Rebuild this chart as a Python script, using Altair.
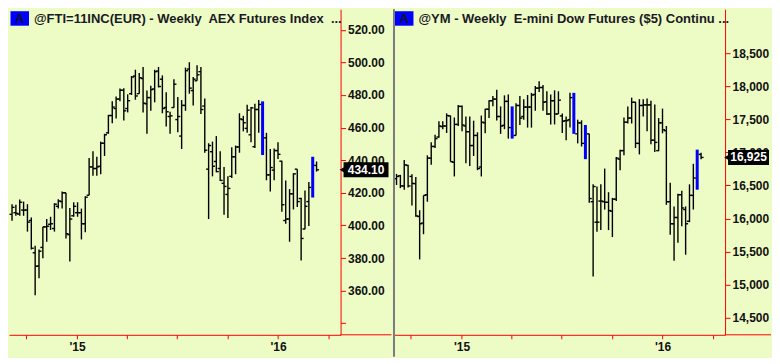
import altair as alt
import pandas as pd

# ---------------- data (weekly OHLC) ----------------
week_end = pd.date_range(end="2016-03-11", periods=80, freq="W-FRI")

aex_high = [413.0, 412.7, 415.9, 414.6, 413.0, 404.9, 387.5, 385.2, 399.1, 403.9,
            405.3, 413.6, 416.1, 420.8, 420.0, 410.7, 414.2, 414.2, 410.3, 417.9,
            441.3, 445.5, 442.1, 451.4, 456.2, 467.8, 476.1, 479.0, 483.9, 484.2,
            480.4, 491.6, 495.5, 493.5, 497.2, 482.7, 485.6, 495.5, 497.2, 492.0,
            481.7, 469.7, 489.7, 478.8, 476.9, 496.8, 500.1, 491.0, 498.2, 497.2,
            477.9, 450.4, 451.4, 454.8, 445.5, 435.9, 430.1, 447.9, 449.0, 468.8,
            467.2, 474.0, 472.6, 474.6, 476.9, 476.1, 456.8, 446.9, 447.1, 451.0,
            439.7, 427.6, 422.3, 432.0, 434.5, 416.9, 421.4, 426.6, 442.1, 439.2]
aex_low = [402.9, 405.9, 405.9, 405.9, 396.2, 385.2, 357.1, 367.6, 379.8, 390.0,
           397.2, 396.2, 410.3, 410.3, 391.9, 377.8, 405.3, 405.3, 391.4, 395.8,
           418.5, 430.5, 430.5, 431.4, 442.6, 456.2, 462.6, 465.5, 476.1, 464.3,
           469.3, 480.0, 477.1, 480.8, 469.3, 456.2, 470.3, 475.5, 484.6, 468.8,
           460.6, 456.2, 472.1, 457.2, 446.9, 470.3, 480.8, 473.6, 488.7, 468.4,
           444.6, 403.9, 430.1, 432.6, 427.2, 406.5, 404.5, 429.1, 431.4, 444.6,
           457.7, 456.8, 451.0, 447.5, 456.8, 443.2, 427.7, 420.8, 427.7, 440.7,
           408.4, 401.0, 390.0, 409.8, 411.3, 378.4, 397.6, 399.7, 417.1, 433.0]
aex_open = [406.8, 407.8, 406.9, 409.4, 409.4, 403.0, 383.2, 375.1, 386.5, 399.1,
            400.7, 398.1, 411.7, 414.6, 420.0, 394.3, 405.9, 407.8, 407.8, 401.0,
            418.5, 435.9, 434.9, 436.3, 450.4, 456.8, 467.4, 471.7, 477.5, 482.9,
            471.7, 480.8, 491.6, 480.8, 490.1, 474.6, 478.4, 483.7, 494.7, 489.7,
            472.3, 466.8, 472.3, 464.9, 454.8, 473.6, 495.9, 482.7, 488.7, 494.3,
            473.2, 434.5, 445.2, 439.2, 434.9, 425.8, 419.0, 430.1, 442.1, 448.1,
            464.9, 459.5, 455.6, 448.3, 471.1, 474.6, 453.7, 431.0, 433.9, 445.9,
            439.4, 403.0, 403.9, 419.4, 434.5, 416.5, 397.8, 414.6, 418.5, 436.8]
aex_close = [411.1, 407.4, 414.2, 409.4, 402.0, 386.0, 374.9, 384.2, 399.1, 399.5,
             401.0, 413.0, 415.0, 420.0, 394.9, 403.9, 411.7, 407.8, 401.0, 417.3,
             435.9, 434.9, 435.9, 450.4, 455.6, 467.4, 472.6, 477.5, 482.9, 470.3,
             476.5, 491.0, 479.4, 490.6, 475.0, 478.4, 483.3, 494.3, 485.2, 471.7,
             469.7, 467.2, 486.6, 466.8, 473.6, 494.9, 484.2, 489.7, 492.4, 471.1,
             446.1, 449.0, 436.3, 433.0, 427.6, 423.9, 422.7, 442.1, 448.1, 465.3,
             463.0, 470.7, 472.1, 471.1, 474.2, 444.6, 431.0, 435.5, 445.9, 443.6,
             412.7, 403.9, 419.4, 431.6, 414.6, 392.0, 411.7, 423.3, 440.7, 434.1]
aex_blue_bars = [66, 79]

ym_high = [16675, 16661, 16885, 16813, 16670, 16627, 16125, 16350, 16957, 17153,
           17267, 17473, 17473, 17592, 17559, 17530, 17721, 17712, 17545, 17545,
           17482, 17306, 17559, 17664, 17793, 17855, 17951, 17698, 17865, 17879,
           17698, 17745, 17855, 17808, 17870, 17903, 18008, 18080, 18023, 17927,
           17879, 17941, 17927, 17592, 17545, 17903, 17903, 17497, 17487, 17416,
           17282, 16517, 16484, 16517, 16756, 16398, 16312, 16933, 17043, 17530,
           17698, 17831, 17769, 17808, 17808, 17817, 17784, 17726, 17521, 17664,
           17401, 16541, 16183, 16374, 16422, 16183, 16517, 16828, 17043, 16995]
ym_low = [16508, 16460, 16436, 16469, 16197, 16025, 15380, 15762, 16254, 16813,
          17067, 17224, 17353, 17296, 16861, 16637, 17401, 17320, 16837, 16794,
          16947, 16732, 16637, 17291, 17521, 17702, 17483, 17282, 17353, 17210,
          17210, 17258, 17416, 17497, 17377, 17377, 17631, 17917, 17631, 17568,
          17425, 17425, 17583, 17296, 17186, 17377, 17282, 17138, 17091, 16899,
          16240, 15122, 15800, 15824, 16135, 15824, 15719, 16264, 16732, 16957,
          17439, 17439, 17067, 16971, 17545, 17320, 17124, 17009, 17019, 17291,
          16207, 15753, 15361, 15633, 15882, 15451, 15944, 16135, 16436, 16899]
ym_open = [16603, 16646, 16493, 16804, 16637, 16527, 16030, 15930, 16360, 16914,
           17091, 17234, 17392, 17401, 17554, 16852, 17425, 17698, 17401, 17315,
           17105, 17258, 16780, 17449, 17655, 17784, 17808, 17545, 17411, 17774,
           17377, 17258, 17712, 17545, 17688, 17688, 17879, 17975, 17984, 17769,
           17583, 17784, 17583, 17554, 17482, 17497, 17860, 17282, 17449, 17400,
           17282, 16254, 15944, 16264, 16254, 16245, 16111, 16293, 16899, 17028,
           17459, 17521, 17760, 17138, 17712, 17721, 17721, 17186, 17028, 17449,
           17330, 16254, 15920, 16015, 16360, 16135, 15958, 16350, 16440, 16971]
ym_close = [16637, 16493, 16813, 16493, 16532, 16039, 15920, 16350, 16914, 17091,
            17210, 17401, 17401, 17559, 16861, 17425, 17698, 17416, 17315, 17105,
            17258, 16756, 17459, 17655, 17784, 17808, 17545, 17401, 17774, 17377,
            17220, 17712, 17521, 17688, 17688, 17870, 17975, 17984, 17760, 17583,
            17784, 17583, 17793, 17473, 17482, 17831, 17290, 17449, 17138, 16905,
            16302, 16484, 15944, 16264, 16245, 16120, 16293, 16914, 17028, 17459,
            17521, 17760, 17138, 17712, 17721, 17721, 17186, 17153, 17449, 17344,
            16254, 15920, 16015, 16360, 16159, 15920, 16350, 16613, 17030, 16925]
ym_blue_bars = [31, 47, 50, 79]

aex_title = "@FTI=11INC(EUR) - Weekly\u00a0 AEX Futures Index\u00a0 ..."
ym_title = "@YM - Weekly\u00a0 E-mini Dow Futures ($5) Continu ..."

aex_ticks = [340, 360, 380, 400, 420, 440, 460, 480, 500, 520]
ym_ticks = [14500, 15000, 15500, 16000, 16500, 17000, 17500, 18000, 18500]
x_tick_days = [-92, 0, 90, 181, 273, 365, 456]   # quarter starts, days from 2015-01-01

# ---------------- layout / style ----------------
W, H = 332, 326
XDOM = [-123.5, 478.6]
BG = "#EDFBC5"
RED = "#FF0000"
FONT = "Liberation Sans"
px_per_day = W / (XDOM[1] - XDOM[0])
tick_half = 2.5 / px_per_day


def make_df(high, low, op, cl, blue):
    df = pd.DataFrame({"high": high, "low": low, "open": op, "close": cl})
    df["x"] = (week_end - pd.Timestamp("2015-01-01")).days
    df["xl"] = df["x"] - tick_half
    df["xr"] = df["x"] + tick_half
    df["blue"] = [(i + 1) in blue for i in range(len(df))]
    return df


def panel(df, ydom, yticks, yexpr, title, label, box_w, ext, divider):
    xs = alt.Scale(domain=XDOM, nice=False, zero=False)
    ys = alt.Scale(domain=ydom, nice=False, zero=False)
    xaxis = alt.Axis(values=x_tick_days, title=None, grid=False,
                     labelExpr="datum.value == 0 ? \"'15\" : (datum.value == 365 ? \"'16\" : '')",
                     domainColor=RED, tickColor=RED, tickSize=4, labelPadding=3,
                     labelFont=FONT, labelFontSize=12, labelFontWeight="bold",
                     labelColor="#111111", labelFlush=False)
    yaxis = alt.Axis(orient="right", values=yticks, title=None, grid=False,
                     labelExpr=yexpr, domainColor=RED, tickColor=RED, tickSize=5,
                     labelPadding=2, labelFont=FONT, labelFontSize=12,
                     labelFontWeight="bold", labelColor="#111111",
                     labelFlush=False, labelOverlap=False)
    X = lambda f: alt.X(f, scale=xs, axis=xaxis)
    Y = lambda f: alt.Y(f, scale=ys, axis=yaxis)

    base = alt.Chart(df)
    normal = base.transform_filter("!datum.blue")
    hl = normal.mark_rule(color="black", strokeWidth=1.4).encode(
        x=X("x:Q"), y=Y("low:Q"), y2="high:Q")
    op = normal.mark_rule(color="black", strokeWidth=1.4).encode(
        x=X("xl:Q"), x2="x:Q", y=Y("open:Q"))
    cl = normal.mark_rule(color="black", strokeWidth=1.4).encode(
        x=X("x:Q"), x2="xr:Q", y=Y("close:Q"))
    bl = base.transform_filter("datum.blue").mark_rule(color="#0000FF", strokeWidth=3).encode(
        x=X("x:Q"), y=Y("low:Q"), y2="high:Q")

    half = 7.5 * (ydom[1] - ydom[0]) / H
    last = df.iloc[[-1]].copy()
    last["ytop"] = last["close"] + half
    last["ybot"] = last["close"] - half
    last["label"] = label
    lc = alt.Chart(last)
    box = lc.mark_rect(color="black").encode(
        x=alt.value(W + 3), x2=alt.value(W + box_w), y=Y("ytop:Q"), y2="ybot:Q")
    arrow = lc.mark_point(shape="triangle-left", filled=True, color="black", size=45,
                          opacity=1).encode(x=alt.value(W + 2), y=Y("close:Q"))
    txt = lc.mark_text(color="white", font=FONT, fontSize=12, fontWeight="bold",
                       align="center", baseline="middle").encode(
        x=alt.value(W + 3 + (box_w - 3) / 2), y=Y("close:Q"), text="label:N")

    one = alt.Chart(pd.DataFrame({"t": [title], "a": ["A"]}))
    abox = one.mark_rect(color="#0000FF").encode(
        x=alt.value(1.5), x2=alt.value(20), y=alt.value(2), y2=alt.value(16.5))
    atxt = one.mark_text(font=FONT, fontSize=13, fontWeight="bold", color="#101030",
                         align="center", baseline="middle").encode(
        x=alt.value(10.8), y=alt.value(9.8), text="a:N")
    ttl = one.mark_text(font=FONT, fontSize=13, fontWeight="bold", color="#1a1a24",
                        align="left", baseline="middle").encode(
        x=alt.value(25), y=alt.value(9.8), text="t:N")
    redline = one.mark_rule(color=RED, strokeWidth=1).encode(
        x=alt.value(W), x2=alt.value(W + ext), y=alt.value(H))

    layers = [hl, op, cl, bl, redline, box, arrow, txt, abox, atxt, ttl]
    if divider:
        gray = one.mark_rule(color="#7C7C7C", strokeWidth=2).encode(
            x=alt.value(0.5), y=alt.value(0), y2=alt.value(H + 22))
        layers.append(gray)
    return alt.layer(*layers).properties(width=W, height=H)


aex = make_df(aex_high, aex_low, aex_open, aex_close, aex_blue_bars)
ym = make_df(ym_high, ym_low, ym_open, ym_close, ym_blue_bars)

left = panel(aex, [332.9, 532.6], aex_ticks,
             "datum.value < 350 ? '' : format(datum.value, '.2f')",
             aex_title, "434.10", 48, 51, False)
right = panel(ym, [14238, 19170], ym_ticks, "format(datum.value, ',')",
              ym_title, "16,925", 44, 46, True)

chart = alt.hconcat(left, right, spacing=0).properties(padding=0).configure(
    background=BG
).configure_view(fill=BG, strokeWidth=0)

chart.save("out.html", embed_options={"renderer": "svg", "actions": False})
